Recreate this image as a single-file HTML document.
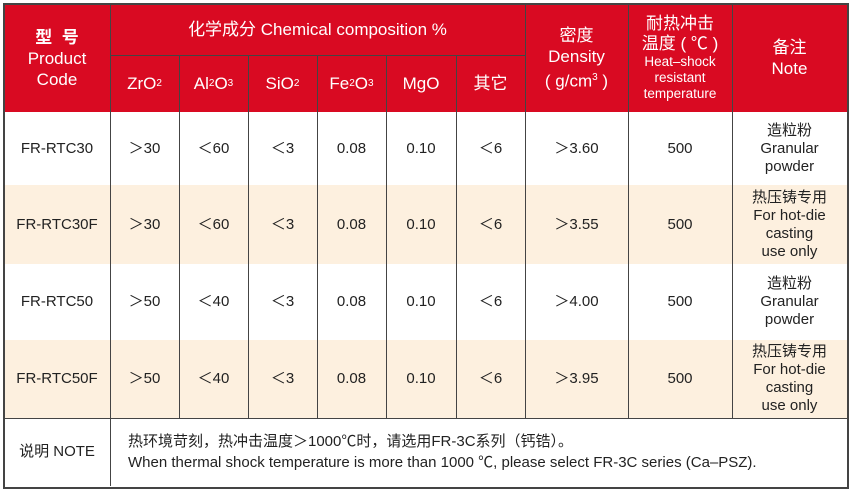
<!DOCTYPE html>
<html><head><meta charset="utf-8"><style>
body{margin:0;width:850px;height:494px;background:#fff;position:relative;overflow:hidden;font-family:"Liberation Sans","Noto Sans CJK SC",sans-serif;color:#222}
.c{position:absolute;display:flex;align-items:center;justify-content:center;text-align:center;box-sizing:border-box;font-size:15px;line-height:18px}
.h{background:#d90a22;color:#fff;font-size:17px;line-height:21px}
.b{background:#fdf0df}
.vl{position:absolute;width:1px;background:#444}
.hl{position:absolute;height:1px;background:#444}
sub,sup{font-size:10px}
sub{vertical-align:-2px}
</style></head><body>
<div class="c h" style="left:4px;top:4px;width:843px;height:108px"></div>
<div class="c h" style="left:4px;top:4px;width:106px;height:108px;flex-direction:column"><div style="font-weight:bold">型&nbsp;&nbsp;号</div><div>Product</div><div>Code</div></div>
<div class="c h" style="left:110px;top:4px;width:415px;height:51px">化学成分 Chemical composition %</div>
<div class="c h" style="left:110px;top:55px;width:69px;height:57px">ZrO<sub>2</sub></div>
<div class="c h" style="left:179px;top:55px;width:69px;height:57px">Al<sub>2</sub>O<sub>3</sub></div>
<div class="c h" style="left:248px;top:55px;width:69px;height:57px">SiO<sub>2</sub></div>
<div class="c h" style="left:317px;top:55px;width:69px;height:57px">Fe<sub>2</sub>O<sub>3</sub></div>
<div class="c h" style="left:386px;top:55px;width:70px;height:57px">MgO</div>
<div class="c h" style="left:456px;top:55px;width:69px;height:57px">其它</div>
<div class="c h" style="left:525px;top:4px;width:103px;height:108px;flex-direction:column"><div>密度</div><div>Density</div><div>( g/cm<sup>3</sup> )</div></div>
<div class="c h" style="left:628px;top:4px;width:104px;height:108px;flex-direction:column"><div style="line-height:20px">耐热冲击</div><div style="line-height:20px">温度 ( ℃ )</div><div style="font-size:13.5px;line-height:16px">Heat–shock<br>resistant<br>temperature</div></div>
<div class="c h" style="left:732px;top:4px;width:115px;height:108px;flex-direction:column"><div>备注</div><div>Note</div></div>
<div class="c b" style="left:4px;top:185px;width:843px;height:79px"></div>
<div class="c b" style="left:4px;top:340px;width:843px;height:78px"></div>
<div id="rows"></div>
<script>
var rows=[[112,185,"FR-RTC30","＞30","＜60","3.60","造粒粉|Granular|powder"],
[185,264,"FR-RTC30F","＞30","＜60","3.55","热压铸专用|For hot-die|casting|use only"],
[264,340,"FR-RTC50","＞50","＜40","4.00","造粒粉|Granular|powder"],
[340,418,"FR-RTC50F","＞50","＜40","3.95","热压铸专用|For hot-die|casting|use only"]];
var xs=[4,110,179,248,317,386,456,525,628,732,847];
var h="";
rows.forEach(function(r){
 var v=[r[2],r[3],r[4],"＜3","0.08","0.10","＜6","＞"+r[5],"500",r[6].split("|").join("<br>")];
 for(var i=0;i<10;i++){h+='<div class="c" style="left:'+xs[i]+'px;top:'+r[0]+'px;width:'+(xs[i+1]-xs[i])+'px;height:'+(r[1]-r[0])+'px">'+v[i]+'</div>';}
});
document.getElementById("rows").innerHTML=h;
</script>
<div class="c" style="left:4px;top:418px;width:106px;height:68px">说明 NOTE</div>
<div class="c" style="left:128px;top:418px;width:719px;height:68px;justify-content:flex-start;text-align:left;line-height:21px"><div>热环境苛刻，热冲击温度＞1000℃时，请选用FR-3C系列（钙锆）。<br>When thermal shock temperature is more than 1000 ℃, please select FR-3C series (Ca–PSZ).</div></div>
<div class="vl" style="left:110px;top:4px;height:482px"></div>
<div class="vl" style="left:525px;top:4px;height:414px"></div>
<div class="vl" style="left:628px;top:4px;height:414px"></div>
<div class="vl" style="left:732px;top:4px;height:414px"></div>
<div class="vl" style="left:179px;top:55px;height:363px"></div>
<div class="vl" style="left:248px;top:55px;height:363px"></div>
<div class="vl" style="left:317px;top:55px;height:363px"></div>
<div class="vl" style="left:386px;top:55px;height:363px"></div>
<div class="vl" style="left:456px;top:55px;height:363px"></div>
<div class="hl" style="left:110px;top:55px;width:415px"></div>
<div class="hl" style="left:4px;top:418px;width:843px"></div>
<div style="position:absolute;left:3px;top:3px;width:842px;height:482px;border:2px solid #444"></div>
</body></html>
